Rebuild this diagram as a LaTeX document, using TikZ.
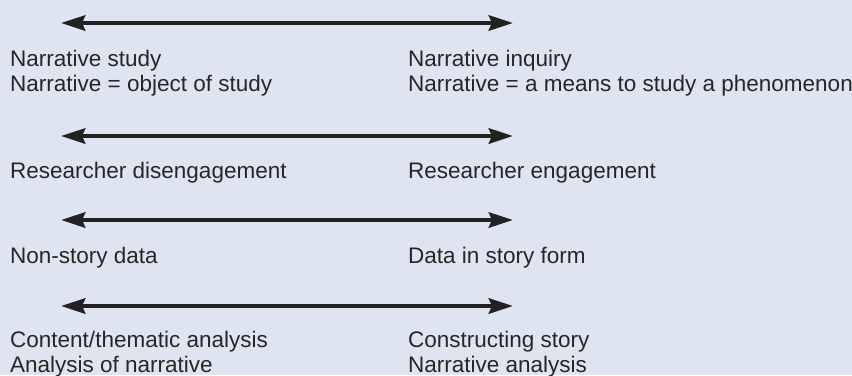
\documentclass[tikz,border=0pt]{standalone}
\usepackage{fontspec}
\setmainfont{Liberation Sans}
\usetikzlibrary{arrows.meta}
\definecolor{bgblue}{RGB}{223,229,240}
\definecolor{inktext}{RGB}{38,38,38}
\definecolor{inkarrow}{RGB}{34,34,34}
\begin{document}
\begin{tikzpicture}[x=1bp,y=-1bp,
  lbl/.style={anchor=base west,inner sep=0pt,text=inktext,font=\fontsize{22.5bp}{25bp}\selectfont},
  dblarrow/.style={draw=inkarrow,line width=4.8bp,{Stealth[length=24bp,width=15bp,inset=3bp]}-{Stealth[length=24bp,width=15bp,inset=3bp]}}]
\fill[bgblue] (0,0) rectangle (852,375);
\useasboundingbox (0,0) rectangle (852,375);
% arrow end points
\coordinate (a1l) at (61,23);  \coordinate (a1r) at (513,23);
\coordinate (a2l) at (61,136); \coordinate (a2r) at (513,136);
\coordinate (a3l) at (61,220); \coordinate (a3r) at (513,220);
\coordinate (a4l) at (61,306); \coordinate (a4r) at (513,306);
\draw[dblarrow] (a1l) -- (a1r);
\draw[dblarrow] (a2l) -- (a2r);
\draw[dblarrow] (a3l) -- (a3r);
\draw[dblarrow] (a4l) -- (a4r);
% labels
\node[lbl] (t1a) at (10,66.5) {Narrative study};
\node[lbl] (t1b) at (10,91.5) {Narrative = object of study};
\node[lbl] (t1c) at (408,66.5) {Narrative inquiry};
\node[lbl] (t1d) at (408,91.5) {Narrative = a means to study a phenomenon};
\node[lbl] (t2a) at (10,178.5) {Researcher disengagement};
\node[lbl] (t2b) at (408,178.5) {Researcher engagement};
\node[lbl] (t3a) at (10,263) {Non-story data};
\node[lbl] (t3b) at (408,263) {Data in story form};
\node[lbl] (t4a) at (10,347) {Content/thematic analysis};
\node[lbl] (t4b) at (10,372) {Analysis of narrative};
\node[lbl] (t4c) at (408,347) {Constructing story};
\node[lbl] (t4d) at (408,372) {Narrative analysis};
\end{tikzpicture}
\end{document}
